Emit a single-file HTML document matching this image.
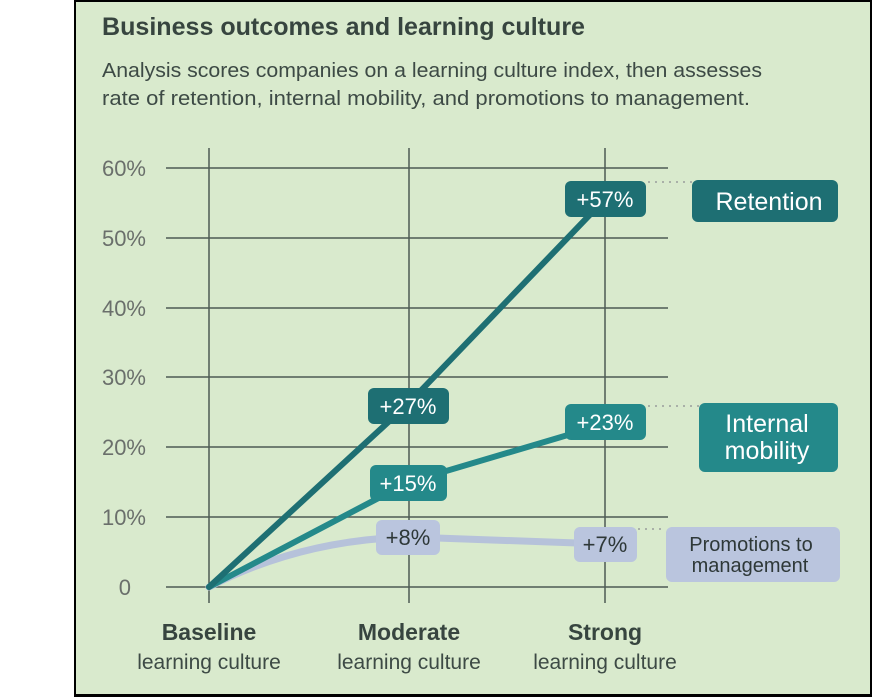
<!DOCTYPE html>
<html><head><meta charset="utf-8"><style>
html,body{margin:0;padding:0;background:#fff;}
svg{display:block;font-family:"Liberation Sans",sans-serif;}
</style></head><body>
<svg width="872" height="697" viewBox="0 0 872 697" xmlns="http://www.w3.org/2000/svg">
<rect x="0" y="0" width="872" height="697" fill="#fff"/>
<rect x="75" y="0" width="795" height="697" fill="#d9eacd"/>
<rect x="74" y="0" width="2" height="697" fill="#000"/>
<rect x="74" y="0" width="798" height="2" fill="#000"/>
<rect x="74" y="694" width="798" height="3" fill="#000"/>
<rect x="870" y="0" width="2" height="697" fill="#000"/>
<text x="102" y="35" font-size="25" font-weight="bold" fill="#37453f" textLength="483" lengthAdjust="spacingAndGlyphs">Business outcomes and learning culture</text>
<text x="102" y="77" font-size="20" fill="#3d4a45" textLength="660" lengthAdjust="spacingAndGlyphs">Analysis scores companies on a learning culture index, then assesses</text>
<text x="102" y="105" font-size="20" fill="#3d4a45" textLength="648" lengthAdjust="spacingAndGlyphs">rate of retention, internal mobility, and promotions to management.</text>
<g stroke="#4e5b55" stroke-width="1.5">
<line x1="166" y1="168" x2="668" y2="168"/>
<line x1="166" y1="238" x2="668" y2="238"/>
<line x1="166" y1="308" x2="668" y2="308"/>
<line x1="166" y1="377" x2="668" y2="377"/>
<line x1="166" y1="447" x2="668" y2="447"/>
<line x1="166" y1="517" x2="668" y2="517"/>
<line x1="166" y1="587" x2="668" y2="587"/>
<line x1="209" y1="148" x2="209" y2="603"/>
<line x1="409" y1="148" x2="409" y2="603"/>
<line x1="605" y1="148" x2="605" y2="603"/>
</g>
<g font-size="22" fill="#6a6f6b" text-anchor="end">
<text x="146" y="176">60%</text><text x="146" y="246">50%</text><text x="146" y="316">40%</text>
<text x="146" y="385">30%</text><text x="146" y="455">20%</text><text x="146" y="525">10%</text>
<text x="131" y="595">0</text>
</g>
<g stroke="#a9b0a8" stroke-width="2" stroke-dasharray="2 5">
<line x1="648" y1="182" x2="692" y2="182"/>
<line x1="648" y1="406" x2="699" y2="406"/>
<line x1="638" y1="529" x2="666" y2="529"/>
</g>
<path d="M209 587 Q300 540 409 537 L605 544" fill="none" stroke="#b6c2da" stroke-width="7" stroke-linecap="round"/>
<path d="M209 587 L409 482 L605 424" fill="none" stroke="#24898a" stroke-width="6" stroke-linecap="round"/>
<path d="M209 587 L409 403 L605 199" fill="none" stroke="#1e6f73" stroke-width="6" stroke-linecap="round"/>
<g font-size="22" text-anchor="middle">
<rect x="565" y="181" width="81" height="36" rx="6" fill="#1e6f73"/><text x="605" y="207" fill="#fff">+57%</text>
<rect x="368" y="388" width="81" height="36" rx="6" fill="#1e6f73"/><text x="408" y="414" fill="#fff">+27%</text>
<rect x="370" y="465" width="77" height="36" rx="6" fill="#24898a"/><text x="408" y="491" fill="#fff">+15%</text>
<rect x="565" y="404" width="81" height="36" rx="6" fill="#24898a"/><text x="605" y="430" fill="#fff">+23%</text>
<rect x="376" y="520" width="64" height="35" rx="6" fill="#bac5de"/><text x="408" y="545" fill="#2e3838">+8%</text>
<rect x="574" y="527" width="63" height="35" rx="6" fill="#bac5de"/><text x="605" y="552" fill="#2e3838">+7%</text>
</g>
<rect x="692" y="180" width="146" height="42" rx="6" fill="#1e6f73"/>
<text x="769" y="210" font-size="25" fill="#fff" text-anchor="middle">Retention</text>
<rect x="699" y="403" width="139" height="69" rx="6" fill="#24898a"/>
<text x="767" y="432" font-size="25" fill="#fff" text-anchor="middle">Internal</text>
<text x="767" y="459" font-size="25" fill="#fff" text-anchor="middle">mobility</text>
<rect x="666" y="527" width="174" height="55" rx="6" fill="#bac5de"/>
<text x="751" y="551" font-size="20" fill="#2e3838" text-anchor="middle">Promotions to</text>
<text x="750" y="572" font-size="20" fill="#2e3838" text-anchor="middle">management</text>
<g text-anchor="middle" fill="#37453f">
<text x="209" y="640" font-size="23" font-weight="bold">Baseline</text>
<text x="409" y="640" font-size="23" font-weight="bold">Moderate</text>
<text x="605" y="640" font-size="23" font-weight="bold">Strong</text>
<text x="209" y="669" font-size="21" fill="#3d4a45">learning culture</text>
<text x="409" y="669" font-size="21" fill="#3d4a45">learning culture</text>
<text x="605" y="669" font-size="21" fill="#3d4a45">learning culture</text>
</g>
</svg>
</body></html>
